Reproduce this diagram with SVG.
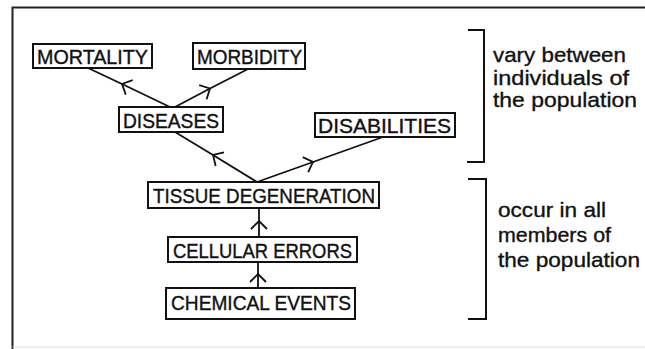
<svg xmlns="http://www.w3.org/2000/svg" width="645" height="349" viewBox="0 0 645 349">
<style>
.box{fill:#fff;stroke:#111;stroke-width:2}
.lbl{font-family:"Liberation Sans",Arial,sans-serif;font-size:21px;fill:#111;stroke:#111;stroke-width:0.4}
.note{font-family:"Liberation Sans",Arial,sans-serif;font-size:21px;fill:#111;stroke:#111;stroke-width:0.35}
.edge{fill:none;stroke:#111;stroke-width:1.8;marker-mid:url(#ah)}
.brk{fill:none;stroke:#111;stroke-width:2}
</style>
<defs>
<marker id="ah" markerUnits="userSpaceOnUse" markerWidth="20" markerHeight="20" viewBox="-10 -10 20 20" refX="0" refY="0" orient="auto">
<path d="M-8,-8 L0,0 L-8,8" fill="none" stroke="#111" stroke-width="1.8"/>
</marker>
</defs>
<rect width="645" height="349" fill="#fff"/>
<g id="frame">
<path d="M12.5,349 L12.5,7.5 L645,7.5" fill="none" stroke="#222" stroke-width="2"/>
<path d="M12.5,347 L645,347" fill="none" stroke="#ddd" stroke-width="1"/>
</g>
<g id="connectors">
<polyline class="edge" points="170,107 122,84 88,68"/>
<polyline class="edge" points="175,107 210,88.5 248,69"/>
<polyline class="edge" points="257,182 213,155 175,132"/>
<polyline class="edge" points="257,182 313,162 383,137"/>
<polyline class="edge" points="259,237 259,221 259,208"/>
<polyline class="edge" points="258,288 258,274 258,262"/>
</g>
<g id="mortality">
<rect class="box" x="33" y="44" width="119" height="24"/>
<text class="lbl" x="37" y="63.5" textLength="111" lengthAdjust="spacingAndGlyphs">MORTALITY</text>
</g>
<g id="morbidity">
<rect class="box" x="193" y="43" width="112" height="26"/>
<text class="lbl" x="197" y="63.5" textLength="105" lengthAdjust="spacingAndGlyphs">MORBIDITY</text>
</g>
<g id="diseases">
<rect class="box" x="119" y="107" width="104" height="25"/>
<text class="lbl" x="123" y="127.5" textLength="96" lengthAdjust="spacingAndGlyphs">DISEASES</text>
</g>
<g id="disabilities">
<rect class="box" x="315" y="113" width="140" height="24"/>
<text class="lbl" x="318" y="132.5" textLength="133" lengthAdjust="spacingAndGlyphs">DISABILITIES</text>
</g>
<g id="tissue">
<rect class="box" x="148" y="182" width="231" height="26"/>
<text class="lbl" x="153" y="202.5" textLength="222" lengthAdjust="spacingAndGlyphs">TISSUE DEGENERATION</text>
</g>
<g id="cellular">
<rect class="box" x="168" y="237" width="189" height="25"/>
<text class="lbl" x="173" y="257.5" textLength="179" lengthAdjust="spacingAndGlyphs">CELLULAR ERRORS</text>
</g>
<g id="chemical">
<rect class="box" x="166" y="288" width="189" height="31"/>
<text class="lbl" x="171" y="309.5" textLength="180" lengthAdjust="spacingAndGlyphs">CHEMICAL EVENTS</text>
</g>
<g id="bracket-top">
<path class="brk" d="M468,30 L484,30 L484,162 L467,162"/>
<text class="note" x="493" y="62" textLength="133" lengthAdjust="spacingAndGlyphs">vary between</text>
<text class="note" x="493" y="85" textLength="136" lengthAdjust="spacingAndGlyphs">individuals of</text>
<text class="note" x="493" y="107" textLength="144" lengthAdjust="spacingAndGlyphs">the population</text>
</g>
<g id="bracket-bottom">
<path class="brk" d="M468,179 L486,179 L486,319 L468,319"/>
<text class="note" x="498" y="217" textLength="108" lengthAdjust="spacingAndGlyphs">occur in all</text>
<text class="note" x="498" y="242" textLength="113" lengthAdjust="spacingAndGlyphs">members of</text>
<text class="note" x="498" y="267" textLength="142" lengthAdjust="spacingAndGlyphs">the population</text>
</g>
</svg>
